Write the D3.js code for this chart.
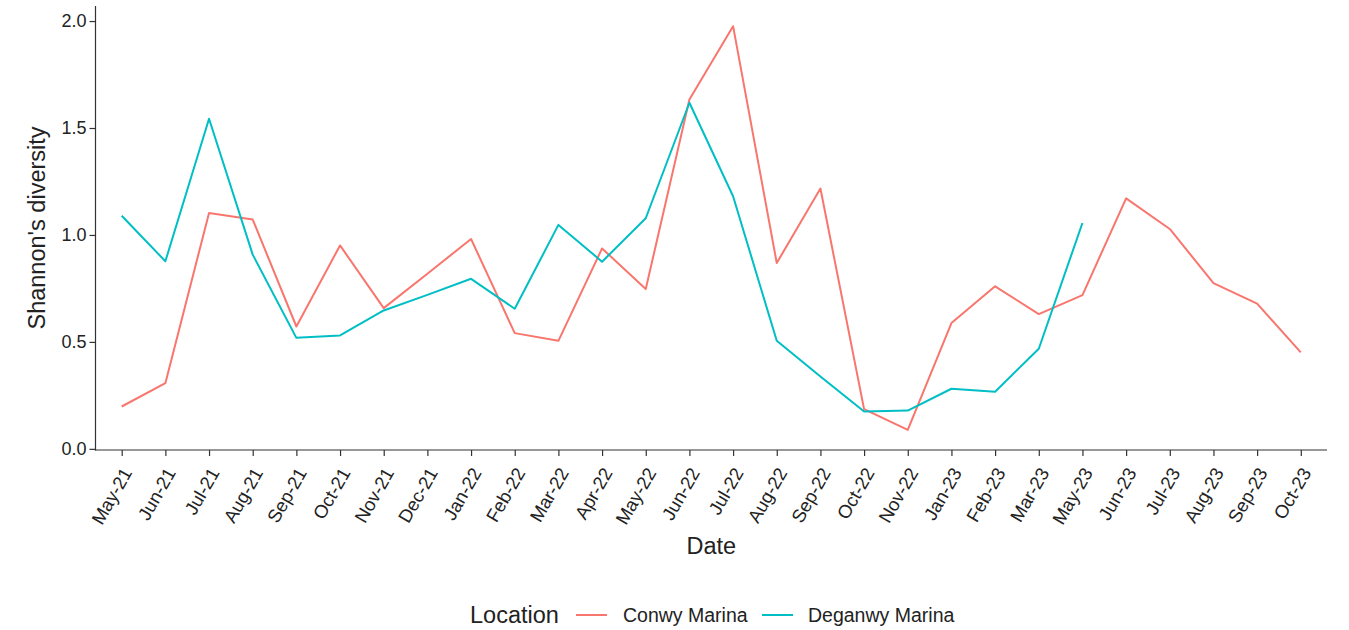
<!DOCTYPE html>
<html>
<head>
<meta charset="utf-8">
<script src="https://cdn.jsdelivr.net/npm/d3@7"></script>
<style>
  html, body { margin: 0; padding: 0; background: #ffffff; }
  svg { display: block; font-family: "Liberation Sans", Arial, Helvetica, sans-serif; }
</style>
</head>
<body>
<svg id="chart" width="1349" height="630"></svg>
<script>
// ---- data ----
const categories = ["May-21","Jun-21","Jul-21","Aug-21","Sep-21","Oct-21","Nov-21","Dec-21",
  "Jan-22","Feb-22","Mar-22","Apr-22","May-22","Jun-22","Jul-22","Aug-22","Sep-22","Oct-22","Nov-22",
  "Jan-23","Feb-23","Mar-23","May-23","Jun-23","Jul-23","Aug-23","Sep-23","Oct-23"];

const conwyMarina = [0.198, 0.307, 1.103, 1.072, 0.572, 0.951, 0.658, 0.819,
  0.981, 0.541, 0.505, 0.937, 0.747, 1.633, 1.976, 0.869, 1.217, 0.186, 0.089,
  0.588, 0.760, 0.630, 0.719, 1.171, 1.028, 0.775, 0.679, 0.451];

const deganwyMarina = [1.090, 0.877, 1.543, 0.908, 0.519, 0.530, 0.647, 0.720,
  0.795, 0.655, 1.047, 0.875, 1.078, 1.618, 1.181, 0.505, 0.338, 0.175, 0.179,
  0.281, 0.267, 0.468, 1.056, null, null, null, null, null];

const seriesNames = ["Conwy Marina", "Deganwy Marina"];
const seriesColors = ["#F8766D", "#00BFC4"];
const yTicks = [0, 0.5, 1.0, 1.5, 2.0];

// ---- layout ----
const svg = d3.select("#chart");
const panel = { left: 95.5, right: 1327, top: 6, bottom: 450 };

const series = [conwyMarina, deganwyMarina].map((vals, i) => ({
  name: seriesNames[i],
  color: seriesColors[i],
  points: categories.map((c, j) => ({ cat: c, v: vals[j] })).filter(d => d.v != null)
}));

const allVals = series.flatMap(s => s.points.map(p => p.v));
const [vmin, vmax] = d3.extent(allVals);
const pad = (vmax - vmin) * 0.05;

const x = d3.scalePoint().domain(categories).range([panel.left, panel.right]).padding(0.6);
const y = d3.scaleLinear().domain([vmin - pad, vmax + pad]).range([panel.bottom, panel.top]);

const textColor = "#222";
const axisColor = "#333";

// ---- lines ----
const line = d3.line().x(d => x(d.cat)).y(d => y(d.v));
svg.append("g").selectAll("path").data(series).join("path")
  .attr("d", d => line(d.points))
  .attr("fill", "none")
  .attr("stroke", d => d.color)
  .attr("stroke-width", 2)
  .attr("stroke-linejoin", "round");

// ---- y axis ----
const yAxis = svg.append("g").attr("transform", `translate(${panel.left},0)`)
  .call(d3.axisLeft(y).tickValues(yTicks).tickFormat(d3.format(".1f")).tickSize(6).tickPadding(3));
yAxis.select(".domain").remove();
yAxis.selectAll(".tick line").attr("stroke", axisColor).attr("stroke-width", 1.2);
yAxis.selectAll(".tick text").attr("fill", textColor).style("font-size", "18px")
  .style("font-family", "'Liberation Sans', Arial, sans-serif");
svg.append("line")
  .attr("x1", panel.left).attr("x2", panel.left)
  .attr("y1", panel.top).attr("y2", panel.bottom + 0.6)
  .attr("stroke", axisColor).attr("stroke-width", 1.2);

// ---- x axis ----
const xAxis = svg.append("g").attr("transform", `translate(0,${panel.bottom})`)
  .call(d3.axisBottom(x).tickSize(6).tickPadding(3));
xAxis.select(".domain").remove();
xAxis.selectAll(".tick line").attr("stroke", axisColor).attr("stroke-width", 1.2);
xAxis.selectAll(".tick text")
  .attr("fill", textColor)
  .style("font-size", "18.5px")
  .style("font-family", "'Liberation Sans', Arial, sans-serif")
  .attr("text-anchor", "end")
  .attr("x", 0).attr("y", 0).attr("dy", "0.72em")
  .attr("transform", "translate(-1,16) rotate(-60)");
svg.append("line")
  .attr("x1", panel.left - 0.6).attr("x2", panel.right)
  .attr("y1", panel.bottom).attr("y2", panel.bottom)
  .attr("stroke", axisColor).attr("stroke-width", 1.2);

// ---- axis titles ----
svg.append("text")
  .attr("x", (panel.left + panel.right) / 2).attr("y", 554)
  .attr("text-anchor", "middle").attr("fill", textColor)
  .style("font-size", "23.5px").text("Date");

svg.append("text")
  .attr("transform", `translate(45,${(panel.top + panel.bottom) / 2}) rotate(-90)`)
  .attr("text-anchor", "middle").attr("fill", textColor)
  .style("font-size", "23.5px").text("Shannon's diversity");

// ---- legend ----
const legY = 615;
const legend = svg.append("g");
legend.append("text").attr("x", 470).attr("y", legY).attr("dy", "0.36em")
  .attr("fill", textColor).style("font-size", "23.5px").text("Location");
const keyX = [576, 762];
const labX = [623, 808];
series.forEach((s, i) => {
  legend.append("line")
    .attr("x1", keyX[i]).attr("x2", keyX[i] + 31)
    .attr("y1", legY).attr("y2", legY)
    .attr("stroke", s.color).attr("stroke-width", 2);
  legend.append("text").attr("x", labX[i]).attr("y", legY).attr("dy", "0.36em")
    .attr("fill", textColor).style("font-size", "19.5px").text(s.name);
});
</script>
</body>
</html>
